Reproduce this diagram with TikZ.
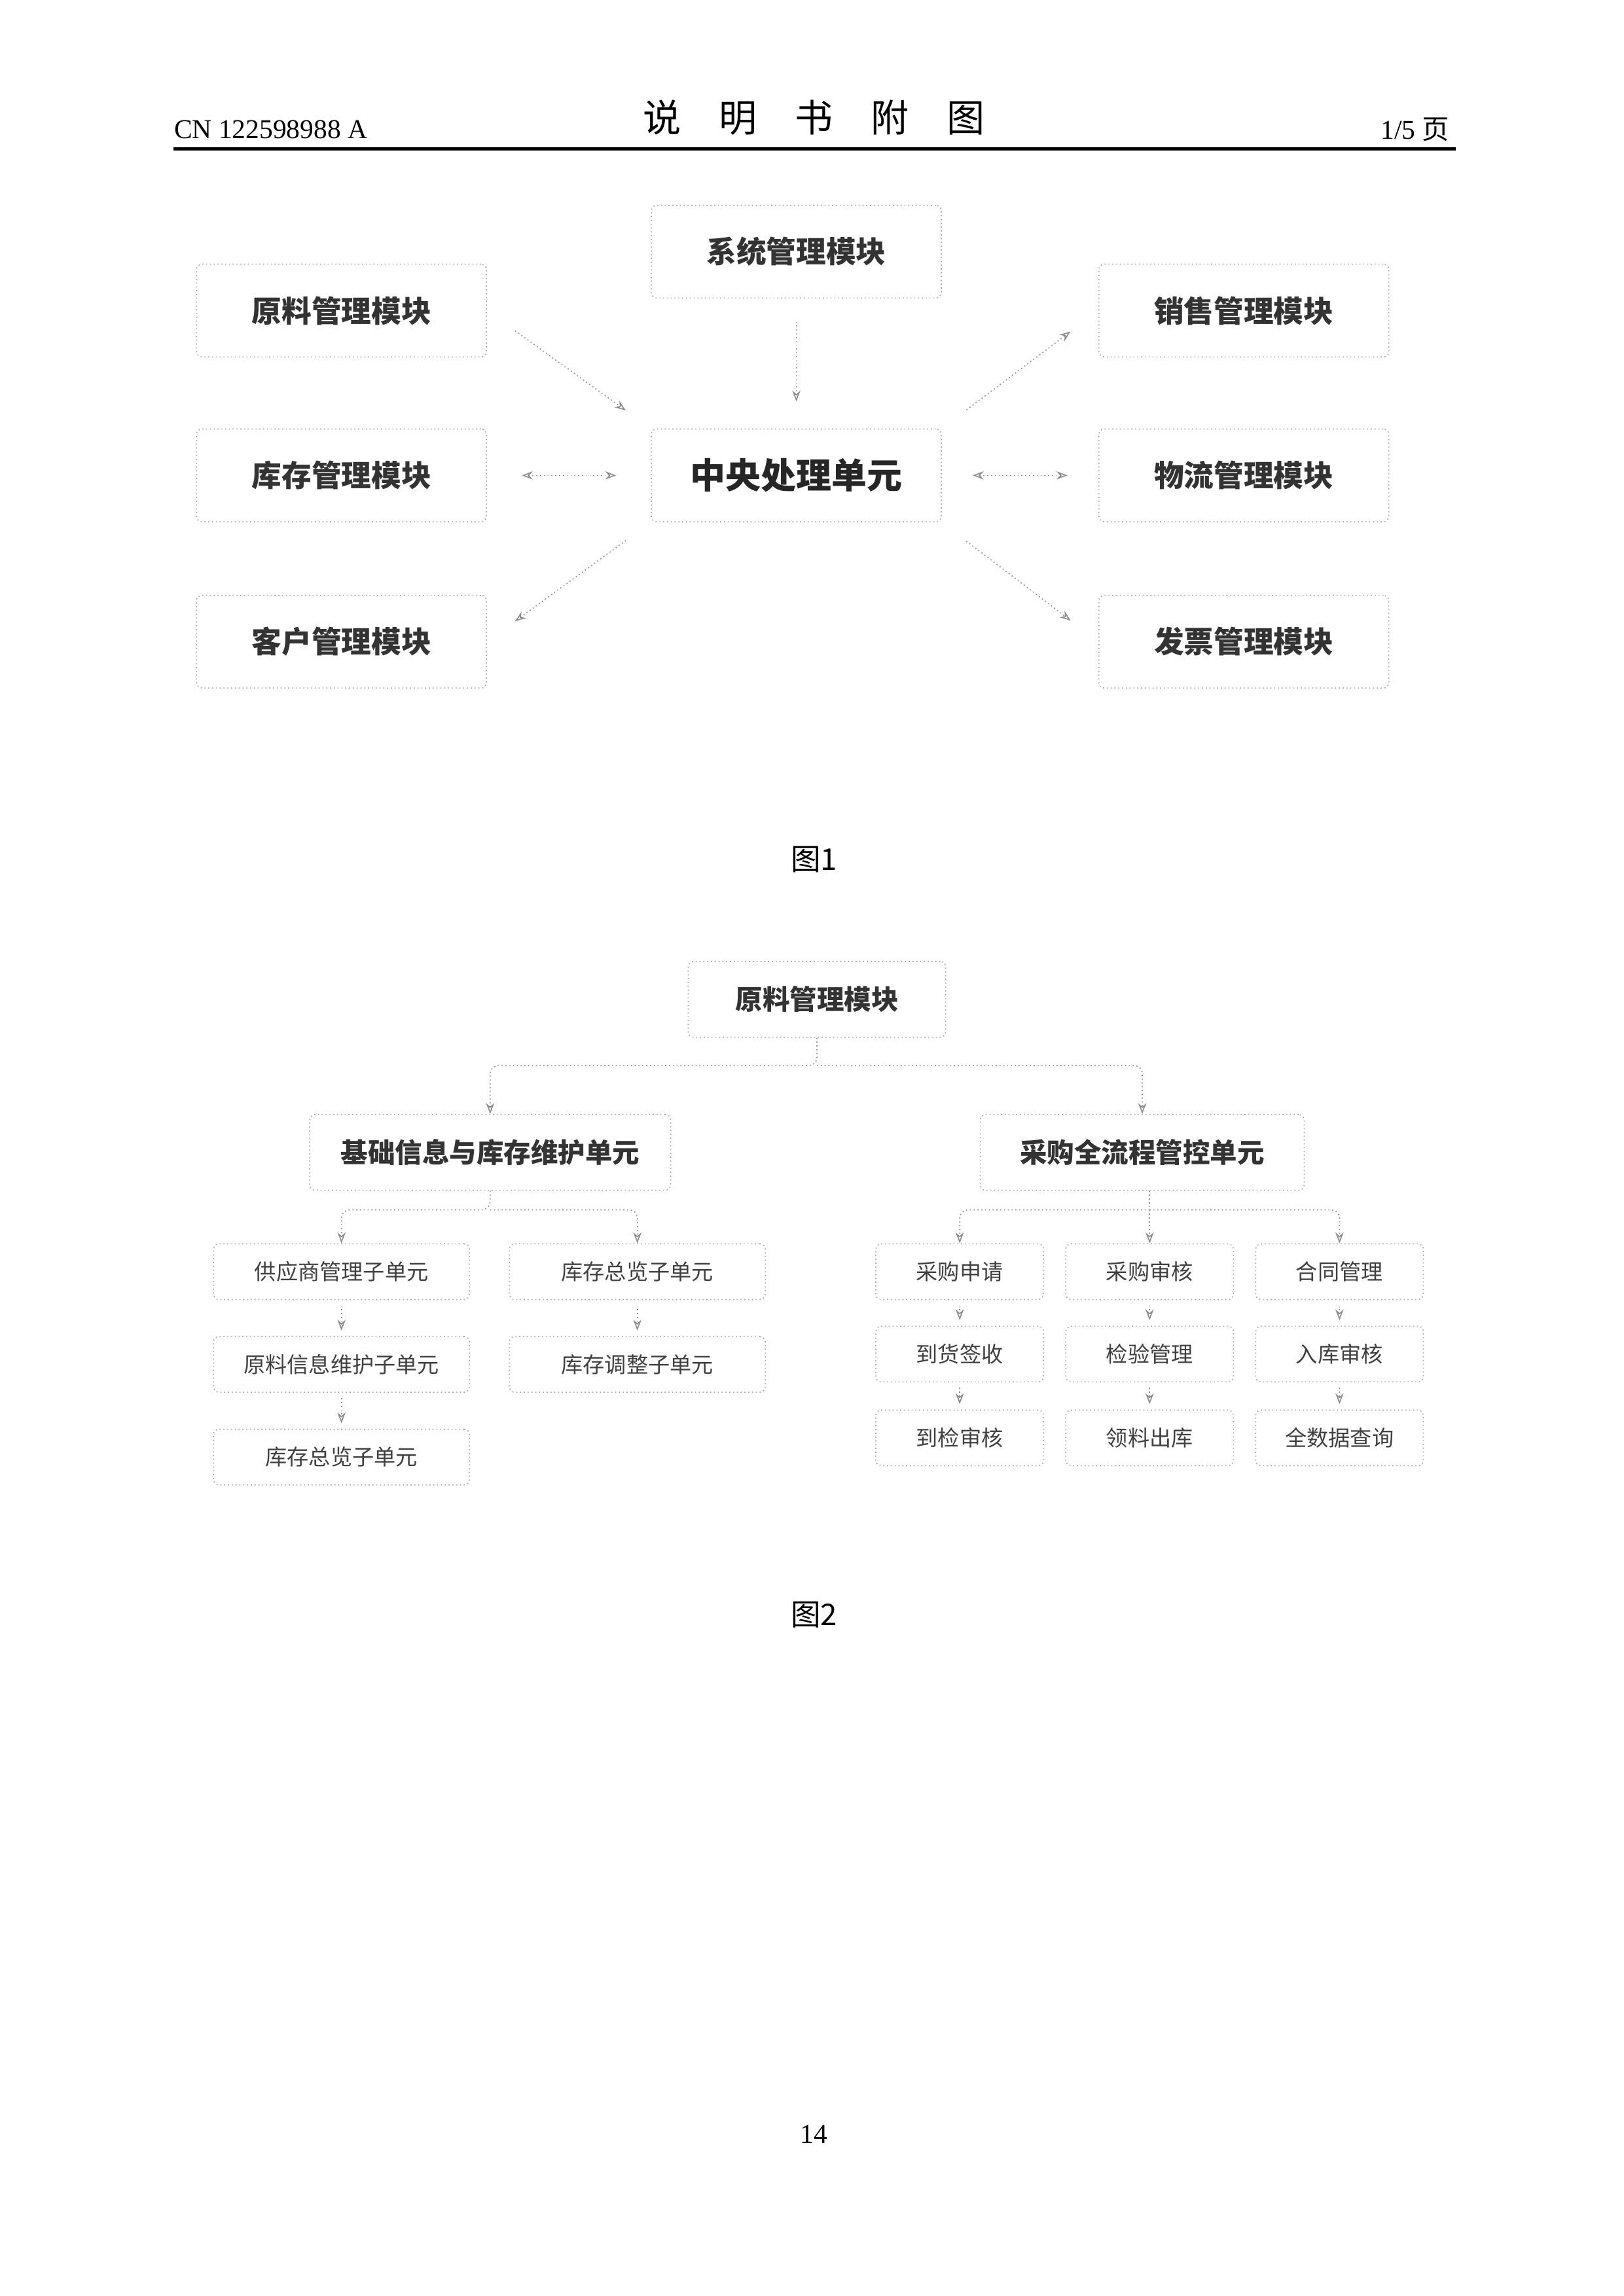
\documentclass[tikz,border=0pt]{standalone}
\usepackage{fontspec}
\newfontfamily\cjk{Noto Sans CJK SC}
\setmainfont{Liberation Serif}
\usetikzlibrary{positioning,arrows.meta}
\tikzset{
  box/.style={draw=black!35, densely dotted, rounded corners=2pt, font=\cjk\bfseries\color{black!80}, inner sep=0pt},
  bigbox/.style={box, minimum width=3.75cm, minimum height=1.2cm, font=\cjk\bfseries\fontsize{11}{13}\selectfont\color{black!80}},
  midbox/.style={box, minimum height=0.98cm, font=\cjk\bfseries\fontsize{10}{12}\selectfont\color{black!80}},
  subbox/.style={box, minimum height=0.72cm, font=\cjk\fontsize{8}{10}\selectfont\color{black!75}},
  link/.style={draw=black!45, densely dotted, thin, -{Stealth[length=4pt,open]}},
  dlink/.style={link, {Stealth[length=4pt,open]}-{Stealth[length=4pt,open]}},
  tree/.style={draw=black!45, densely dotted, thin, rounded corners=3pt, -{Stealth[length=4pt,open]}},
}
\begin{document}
\begin{tikzpicture}[x=0.01904cm, y=-0.01904cm]
  \useasboundingbox (0,0) rectangle (1103,1560);
  % header
  \node[anchor=west, inner sep=0pt, font=\fontsize{10}{12}\selectfont] (cn) at (118,88) {CN 122598988 A};
  \node[font=\cjk\fontsize{14}{16}\selectfont] (title) at (553,80) {说\quad 明\quad 书\quad 附\quad 图};
  \node[anchor=east, inner sep=0pt, font=\fontsize{10}{12}\selectfont] (pg) at (985,88) {1/5 \cjk 页};
  \draw[line width=1.2pt] (118,101) -- (989,101);

  % figure 1
  \node[bigbox] (sys) at (541,171) {系统管理模块};
  \node[bigbox] (raw) at (232,211) {原料管理模块};
  \node[bigbox] (stock) at (232,323) {库存管理模块};
  \node[bigbox] (cust) at (232,436) {客户管理模块};
  \node[bigbox, font=\cjk\bfseries\fontsize{13}{15}\selectfont\color{black!85}] (cpu) at (541,323) {中央处理单元};
  \node[bigbox] (sale) at (845,211) {销售管理模块};
  \node[bigbox] (logi) at (845,323) {物流管理模块};
  \node[bigbox] (inv) at (845,436) {发票管理模块};

  \draw[link, shorten <=0.45cm, shorten >=0.4cm] (raw.east) -- (cpu.north west);
  \draw[link, shorten <=0.3cm, shorten >=0.35cm] (sys) -- (cpu);
  \draw[link, shorten <=0.4cm, shorten >=0.45cm] (cpu.north east) -- (sale.west);
  \draw[dlink, shorten <=0.45cm, shorten >=0.45cm] (stock) -- (cpu);
  \draw[dlink, shorten <=0.4cm, shorten >=0.4cm] (cpu) -- (logi);
  \draw[link, shorten <=0.4cm, shorten >=0.45cm] (cpu.south west) -- (cust.east);
  \draw[link, shorten <=0.4cm, shorten >=0.45cm] (cpu.south east) -- (inv.west);

  \node[font=\cjk\fontsize{11}{13}\selectfont] (cap1) at (553,584) {图1};

  % figure 2
  \node[midbox, minimum width=3.33cm] (rm) at (555,679) {原料管理模块};
  \node[midbox, minimum width=4.67cm] (base) at (333,783) {基础信息与库存维护单元};
  \node[midbox, minimum width=4.19cm] (buy) at (776,783) {采购全流程管控单元};

  \coordinate (j0) at (555,724);
  \draw[tree] (rm.south) -- (j0) -| (base.north);
  \draw[tree] (j0) -| (buy.north);

  \node[subbox, minimum width=3.31cm] (sup) at (232,864) {供应商管理子单元};
  \node[subbox, minimum width=3.31cm] (rawinfo) at (232,927) {原料信息维护子单元};
  \node[subbox, minimum width=3.31cm] (ovr2) at (232,990) {库存总览子单元};
  \node[subbox, minimum width=3.31cm] (ovr) at (433,864) {库存总览子单元};
  \node[subbox, minimum width=3.31cm] (adj) at (433,927) {库存调整子单元};

  \coordinate (j1) at (333,822);
  \draw[tree] (base.south) -- (j1) -| (sup.north);
  \draw[tree] (j1) -| (ovr.north);
  \draw[link, shorten <=2pt, shorten >=2pt] (sup) -- (rawinfo);
  \draw[link, shorten <=2pt, shorten >=2pt] (rawinfo) -- (ovr2);
  \draw[link, shorten <=2pt, shorten >=2pt] (ovr) -- (adj);

  \node[subbox, minimum width=2.17cm] (req) at (652,864) {采购申请};
  \node[subbox, minimum width=2.17cm] (recv) at (652,920) {到货签收};
  \node[subbox, minimum width=2.17cm] (chk) at (652,977) {到检审核};
  \node[subbox, minimum width=2.17cm] (aud) at (781,864) {采购审核};
  \node[subbox, minimum width=2.17cm] (insp) at (781,920) {检验管理};
  \node[subbox, minimum width=2.17cm] (out) at (781,977) {领料出库};
  \node[subbox, minimum width=2.17cm] (ctr) at (910,864) {合同管理};
  \node[subbox, minimum width=2.17cm] (inst) at (910,920) {入库审核};
  \node[subbox, minimum width=2.17cm] (qry) at (910,977) {全数据查询};

  \coordinate (j2) at (781,822);
  \draw[draw=black!45, densely dotted, thin] (buy.south -| j2) -- (j2);
  \draw[tree] (j2) -| (req.north);
  \draw[tree] (j2) -- (aud.north);
  \draw[tree] (j2) -| (ctr.north);
  \foreach \a/\b in {req/recv, recv/chk, aud/insp, insp/out, ctr/inst, inst/qry}
    \draw[link, shorten <=2pt, shorten >=2pt] (\a) -- (\b);

  \node[font=\cjk\fontsize{11}{13}\selectfont] (cap2) at (553,1097) {图2};
  \node[font=\fontsize{10}{12}\selectfont] (num) at (553,1450) {14};
\end{tikzpicture}
\end{document}
